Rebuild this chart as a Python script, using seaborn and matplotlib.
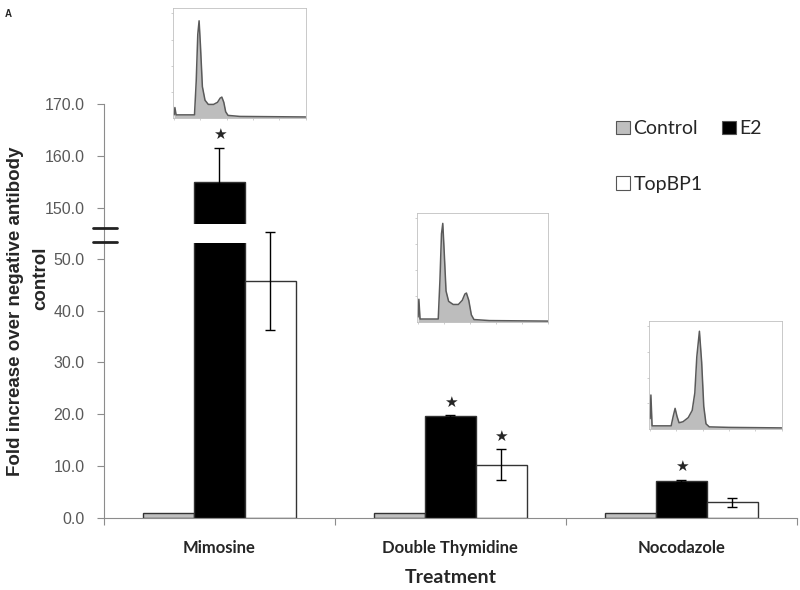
import matplotlib
matplotlib.use('Agg')
import pandas as pd
from matplotlib import pyplot as plt
from matplotlib.patches import Patch
from matplotlib.lines import Line2D
import seaborn as sns
import numpy as np

# bar chart values
treatments = ['Mimosine', 'Double Thymidine', 'Nocodazole']
groups = ['Control', 'E2', 'TopBP1']
control_vals = [1.0, 1.0, 1.0]
e2_vals = [155.0, 19.6, 7.2]
topbp1_vals = [45.7, 10.3, 3.0]
control_err = [0.0, 0.0, 0.0]
e2_err = [6.6, 0.2, 0.2]
topbp1_err = [9.4, 3.0, 0.8]
e2_star = [True, True, True]
topbp1_star = [True, True, False]

lower_ticks = [0, 10, 20, 30, 40, 50]
upper_ticks = [150, 160, 170]

# flow cytometry insets (x fraction, height fraction)
mim_x = [0.0, 0.006, 0.015, 0.155, 0.168, 0.18, 0.19, 0.2, 0.215, 0.235, 0.26, 0.3, 0.33, 0.35, 0.363, 0.378, 0.392, 0.41, 0.5, 1.0]
mim_y = [0.03, 0.1, 0.03, 0.03, 0.35, 0.8, 0.93, 0.7, 0.3, 0.17, 0.13, 0.13, 0.15, 0.19, 0.2, 0.15, 0.06, 0.025, 0.015, 0.01]
dt_x = [0.0, 0.006, 0.015, 0.155, 0.168, 0.18, 0.19, 0.2, 0.215, 0.235, 0.27, 0.31, 0.34, 0.36, 0.372, 0.39, 0.41, 0.43, 0.55, 1.0]
dt_y = [0.05, 0.22, 0.03, 0.03, 0.4, 0.85, 0.95, 0.7, 0.3, 0.2, 0.17, 0.17, 0.21, 0.27, 0.28, 0.21, 0.07, 0.025, 0.015, 0.01]
noc_x = [0.0, 0.006, 0.015, 0.16, 0.175, 0.19, 0.205, 0.22, 0.25, 0.29, 0.32, 0.34, 0.355, 0.375, 0.392, 0.408, 0.425, 0.45, 0.6, 1.0]
noc_y = [0.1, 0.33, 0.03, 0.03, 0.12, 0.2, 0.12, 0.06, 0.07, 0.11, 0.18, 0.35, 0.7, 0.95, 0.65, 0.22, 0.05, 0.02, 0.015, 0.01]

df = pd.DataFrame({
    'Treatment': treatments * 3,
    'Group': ['Control'] * 3 + ['E2'] * 3 + ['TopBP1'] * 3,
    'Fold': control_vals + e2_vals + topbp1_vals,
})
errs = {'Control': control_err, 'E2': e2_err, 'TopBP1': topbp1_err}
vals = {'Control': control_vals, 'E2': e2_vals, 'TopBP1': topbp1_vals}
stars = {'Control': [False] * 3, 'E2': e2_star, 'TopBP1': topbp1_star}
palette = {'Control': '#bfbfbf', 'E2': '#000000', 'TopBP1': '#ffffff'}

sns.set_style('white')
plt.rcParams['font.family'] = ['Liberation Sans', 'DejaVu Sans']

fig = plt.figure(figsize=(8, 5.9), dpi=100)
axLow = fig.add_axes([0.13, 0.122, 0.866, 0.466])
axUp = fig.add_axes([0.13, 0.621, 0.866, 0.2027])

low_top = 53
up_bottom = 147

for ax in [axLow, axUp]:
    sns.barplot(data=df, x='Treatment', y='Fold', hue='Group', hue_order=groups,
                palette=palette, edgecolor='#333333', linewidth=1.0, width=0.66,
                errorbar=None, legend=False, ax=ax)
    ax.set_xlim(-0.5, 2.5)
    ax.set_xlabel('')
    ax.set_ylabel('')
    for s in ['top', 'right']:
        ax.spines[s].set_visible(False)
    ax.spines['left'].set_color('#8c8c8c')
    ax.spines['bottom'].set_color('#8c8c8c')
    ax.tick_params(axis='y', direction='out', length=5, color='#8c8c8c', pad=9,
                   labelcolor='#595959', labelsize=11.5, left=True)
    ax.yaxis.set_major_formatter(matplotlib.ticker.FormatStrFormatter('%.1f'))

axLow.set_ylim(0, low_top)
axLow.set_yticks(lower_ticks)
axUp.set_ylim(up_bottom, 170)
axUp.set_yticks(upper_ticks)
axUp.spines['bottom'].set_visible(False)
axUp.set_xticks([])

axLow.set_xticks([-0.5, 0.5, 1.5, 2.5])
axLow.set_xticklabels([])
axLow.tick_params(axis='x', which='major', direction='out', length=5, color='#8c8c8c', bottom=True)
axLow.set_xticks([0, 1, 2], minor=True)
axLow.set_xticklabels(treatments, minor=True, fontfamily='Lato', fontweight='bold', fontsize=12)
axLow.tick_params(axis='x', which='minor', length=0, pad=16)
axLow.set_xlabel('Treatment', fontfamily='Lato', fontweight='bold', fontsize=14, labelpad=9)

# error bars and significance stars
for gi, g in enumerate(groups):
    for ti in range(len(treatments)):
        bar = axLow.containers[gi][ti]
        xc = bar.get_x() + bar.get_width() / 2
        v = vals[g][ti]
        e = errs[g][ti]
        ax = axUp if v > low_top else axLow
        if e > 0:
            ax.errorbar(xc, v, yerr=e, fmt='none', ecolor='black', elinewidth=1,
                        capsize=3.5, capthick=1, clip_on=False)
        if stars[g][ti]:
            ax.annotate('★', (xc, v + e), xytext=(0, 4), textcoords='offset points',
                        ha='center', va='bottom', fontsize=11, fontfamily='DejaVu Sans',
                        annotation_clip=False)

# axis break
fig.add_artist(Line2D([0.13, 0.13], [0.588, 0.621], color='#8c8c8c', lw=0.8))
for yb in [0.6136, 0.5898]:
    fig.add_artist(Line2D([0.116, 0.146], [yb, yb], color='#222222', lw=2))

# legend
handles = [Patch(facecolor=palette[g], edgecolor='#555555', linewidth=0.8) for g in groups]
order = [0, 2, 1]
fig.legend([handles[i] for i in order], [groups[i] for i in order], ncol=2,
           loc='upper left', bbox_to_anchor=(0.748, 0.826), frameon=False,
           prop={'family': 'Lato', 'size': 14}, handlelength=0.7, handleheight=0.7,
           handletextpad=0.2, columnspacing=1.0, labelspacing=2.0)

fig.text(0.019, 0.473, 'Fold increase over negative antibody', rotation=90,
         ha='center', va='center', fontsize=13.5, fontweight='bold')
fig.text(0.051, 0.529, 'control', rotation=90,
         ha='center', va='center', fontsize=13.5, fontweight='bold')
fig.text(0.006, 0.985, 'A', fontsize=7, fontweight='bold', va='top')

# flow cytometry thumbnails
insets = [([0.216, 0.8, 0.166, 0.186], mim_x, mim_y),
          ([0.521, 0.454, 0.164, 0.185], dt_x, dt_y),
          ([0.811, 0.273, 0.166, 0.183], noc_x, noc_y)]
for pos, hx, hy in insets:
    ins = fig.add_axes(pos)
    ins.fill_between(hx, 0, hy, color='#bdbdbd', lw=0)
    ins.plot(hx, hy, color='#5a5a5a', lw=1.1)
    ins.set_xlim(-0.01, 1)
    ins.set_ylim(0, 1.05)
    for s in ins.spines.values():
        s.set_color('#c0c0c0')
        s.set_linewidth(0.6)
    ins.set_xticks([0, 0.2, 0.4, 0.6, 0.8, 1.0])
    ins.set_yticks([0.25, 0.5, 0.75, 1.0])
    ins.tick_params(length=1.5, width=0.4, color='#aaaaaa', labelbottom=False, labelleft=False,
                    bottom=True, left=True)
    ins.patch.set_alpha(0)

plt.savefig('out.png', dpi=100)
plt.close()
